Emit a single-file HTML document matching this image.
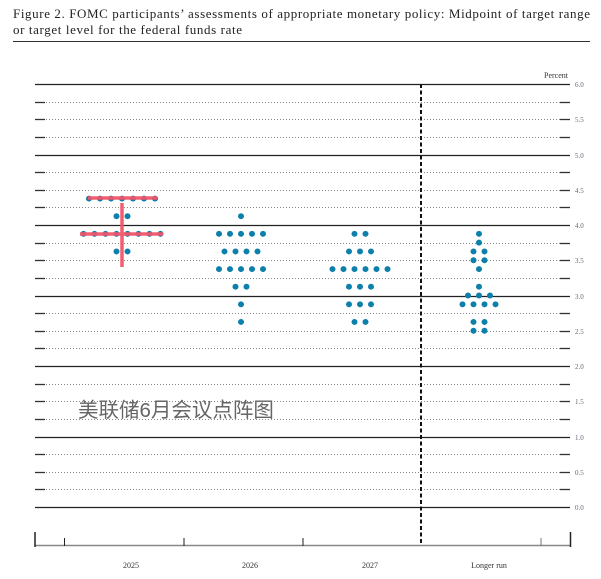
<!DOCTYPE html>
<html><head><meta charset="utf-8"><style>
body{margin:0;background:#fff;width:601px;height:579px;overflow:hidden}
</style></head><body>
<svg width="601" height="579" xmlns="http://www.w3.org/2000/svg" style="position:absolute;left:0;top:0">
<g font-family="Liberation Serif, serif" font-size="13" fill="#222">
<text x="13" y="18" textLength="577" lengthAdjust="spacing">Figure 2.  FOMC participants’ assessments of appropriate monetary policy: Midpoint of target range</text>
<text x="13" y="34" textLength="229" lengthAdjust="spacing">or target level for the federal funds rate</text>
</g>
<line x1="13" y1="41.5" x2="590" y2="41.5" stroke="#333" stroke-width="1"/>
<text x="544" y="78" font-family="Liberation Serif, serif" font-size="8" fill="#333">Percent</text>
<g id="grid"></g>
<g font-family="Liberation Serif, serif" font-size="7" fill="#667">
<text x="575" y="87">6.0</text><text x="575" y="122">5.5</text><text x="575" y="158">5.0</text><text x="575" y="193">4.5</text><text x="575" y="228">4.0</text><text x="575" y="263">3.5</text><text x="575" y="299">3.0</text><text x="575" y="334">2.5</text><text x="575" y="369">2.0</text><text x="575" y="404">1.5</text><text x="575" y="440">1.0</text><text x="575" y="475">0.5</text><text x="575" y="510">0.0</text>
</g>
<line x1="421" y1="84" x2="421" y2="546" stroke="#111" stroke-width="2" stroke-dasharray="4,2.5"/>
<g stroke="#222">
<line x1="35" y1="545.5" x2="571" y2="545.5" stroke="#888" stroke-width="1.5"/>
<line x1="35" y1="532" x2="35" y2="547" stroke-width="1.5"/>
<line x1="570.5" y1="532" x2="570.5" y2="547" stroke-width="1.5"/>
<line x1="64.5" y1="538" x2="64.5" y2="546"/>
<line x1="184" y1="538" x2="184" y2="546"/>
<line x1="303" y1="538" x2="303" y2="546"/>
<line x1="541" y1="538" x2="541" y2="546" stroke="#777"/>
</g>
<g font-family="Liberation Serif, serif" font-size="8" fill="#333" text-anchor="middle">
<text x="131" y="568">2025</text><text x="250" y="568">2026</text><text x="370" y="568">2027</text><text x="489" y="568">Longer run</text>
</g>
<g fill="#0d7fab" id="dots"></g>
<g stroke="#f25568" stroke-width="3.5" opacity="0.95">
<line x1="88" y1="198" x2="157" y2="198"/>
<line x1="80" y1="234" x2="163" y2="234"/>
<line x1="122" y1="203" x2="122" y2="267"/>
</g>
<text x="78" y="417" font-family="Liberation Sans, 'Noto Sans CJK SC', sans-serif" font-size="20.5" fill="#666">美联储6月会议点阵图</text>
</svg>
<script>
var ns="http://www.w3.org/2000/svg",g=document.getElementById("grid");
function y(v){return 507-v*70.5}
for(var i=0;i<=24;i++){var v=i*0.25,yy=Math.round(y(v))+0.5;
 function L(a,b,c,w,d){var l=document.createElementNS(ns,"line");l.setAttribute("x1",a);l.setAttribute("x2",b);l.setAttribute("y1",yy);l.setAttribute("y2",yy);l.setAttribute("stroke",c);l.setAttribute("stroke-width",w);if(d)l.setAttribute("stroke-dasharray",d);g.appendChild(l);}
 if(i%4==0){L(35,570,"#222",1.3);}else{L(46,560,"#888",1,"1,2");L(35,45,"#333",1.3);L(560,570,"#333",1.3);}
}
var D=[[122,[[4.375,7],[4.125,2],[3.875,8],[3.625,2]]],
[241,[[4.125,1],[3.875,5],[3.625,4],[3.375,5],[3.125,2],[2.875,1],[2.625,1]]],
[360,[[3.875,2],[3.625,3],[3.375,6],[3.125,3],[2.875,3],[2.625,2]]],
[479,[[3.875,1],[3.75,1],[3.625,2],[3.5,2],[3.375,1],[3.125,1],[3.0,3],[2.875,4],[2.625,2],[2.5,2]]]];
var dg=document.getElementById("dots");
D.forEach(function(c){c[1].forEach(function(r){for(var k=0;k<r[1];k++){var e=document.createElementNS(ns,"circle");e.setAttribute("cx",c[0]+(k-(r[1]-1)/2)*11);e.setAttribute("cy",y(r[0]));e.setAttribute("r",3);dg.appendChild(e);}})});
</script>
</body></html>
